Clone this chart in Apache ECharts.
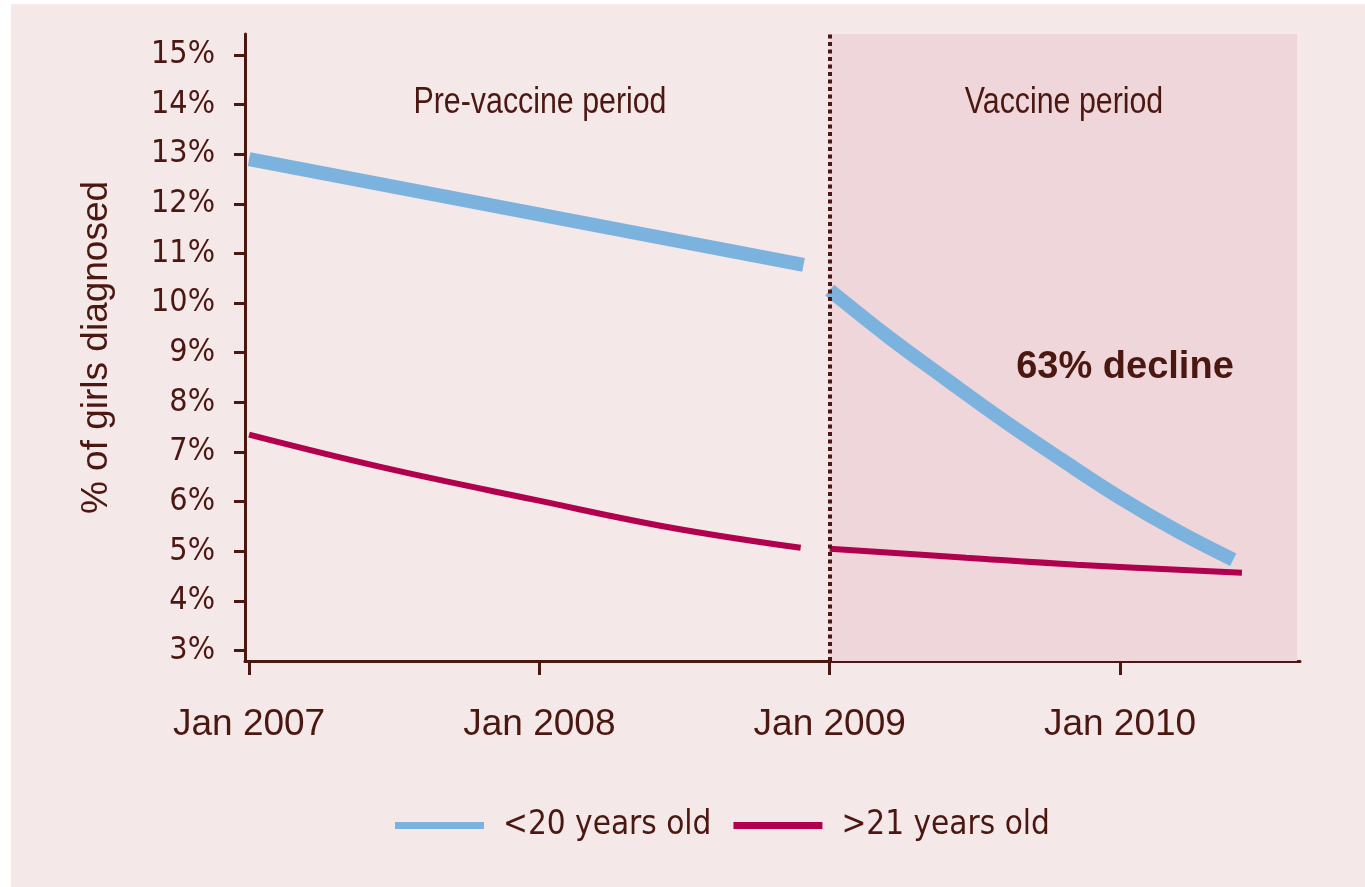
<!DOCTYPE html>
<html>
<head>
<meta charset="utf-8">
<script src="https://cdn.jsdelivr.net/npm/echarts@6/dist/echarts.min.js"></script>
<style>
  html, body { margin: 0; padding: 0; background: #ffffff; }
  #main { position: absolute; left: 11px; top: 4px; width: 1354px; height: 883px; }
</style>
</head>
<body>
<div id="main"></div>
<script>
// ticks
const yearTicks = [2007, 2008, 2009, 2010];
const rateTicks = [3, 4, 5, 6, 7, 8, 9, 10, 11, 12, 13, 14, 15];
const vaccineStart = 2009;
const xMin = 2006.986, xMax = 2010.62;
const yMin = 2.79, yMax = 15.42;

// <20 years old
const youngPreYear = [2007.0, 2008.91];
const youngPreRate = [12.9, 10.77];
const youngPostYear = [2009.0, 2009.2, 2009.4, 2009.6, 2009.8, 2010.0, 2010.2, 2010.39];
const youngPostRate = [10.26, 9.33, 8.47, 7.63, 6.84, 6.08, 5.4, 4.83];

// >21 years old
const olderPreYear = [2007.0, 2007.46, 2007.99, 2008.45, 2008.9];
const olderPreRate = [7.35, 6.69, 6.03, 5.48, 5.07];
const olderPostYear = [2009.0, 2009.47, 2009.85, 2010.42];
const olderPostRate = [5.05, 4.87, 4.73, 4.57];

const seriesNames = ["<20 years old", ">21 years old"];

const brown = "#4b1711";
const narrow = '"Liberation Sans Narrow", "DejaVu Sans Condensed", sans-serif';
const regular = '"Liberation Sans", Arial, sans-serif';

// join the two periods with a gap between them
function joinPeriods(preX, preY, postX, postY) {
  const out = preX.map((x, i) => [x, preY[i]]);
  out.push([(preX[preX.length - 1] + postX[0]) / 2, null]);
  postX.forEach((x, i) => out.push([x, postY[i]]));
  return out;
}

// condensed-looking caption (regular face squeezed horizontally)
function caption(text, x, y, font, squeeze) {
  return {
    type: "text", x: x, y: y, z: 100, silent: true, scaleX: squeeze,
    style: { text: text, fill: brown, font: font, align: "center", verticalAlign: "middle" },
  };
}

const myChart = echarts.init(document.getElementById("main"));

const option = {
  backgroundColor: "#f5e8e9",
  animation: false,
  grid: { left: 234, right: 65, top: 30, bottom: 226, containLabel: false },
  xAxis: {
    type: "value",
    min: xMin,
    max: xMax,
    splitLine: { show: false },
    axisLine: { onZero: false, lineStyle: { color: brown, width: 3 } },
    axisTick: { customValues: yearTicks, length: 14, lineStyle: { color: brown, width: 3 } },
    axisLabel: {
      customValues: yearTicks,
      formatter: (v) => "Jan " + v,
      color: brown,
      fontFamily: regular,
      fontSize: 37,
      margin: 45,
    },
  },
  yAxis: {
    type: "value",
    min: yMin,
    max: yMax,
    name: "% of girls diagnosed",
    nameLocation: "middle",
    nameGap: 130,
    nameTextStyle: { color: brown, fontFamily: regular, fontSize: 37 },
    splitLine: { show: false },
    axisLine: { lineStyle: { color: brown, width: 3 } },
    axisTick: { customValues: rateTicks, length: 11, lineStyle: { color: brown, width: 3 } },
    axisLabel: {
      customValues: rateTicks,
      formatter: (v) => v + "%",
      color: brown,
      fontFamily: narrow,
      fontSize: 32,
      margin: 30,
    },
  },
  legend: {
    data: seriesNames,
    left: 379,
    top: 800,
    icon: "rect",
    itemWidth: 89,
    itemHeight: 7,
    itemGap: 22,
    itemStyle: { borderWidth: 0 },
    textStyle: { color: brown, fontFamily: narrow, fontSize: 33, padding: [0, 0, 0, 14] },
  },
  graphic: [
    caption("Pre-vaccine period", 529, 99, "37px " + regular, 0.82),
    caption("Vaccine period", 1053, 99, "37px " + regular, 0.82),
    caption("63% decline", 1114, 364, "bold 38px " + regular, 1),
  ],
  series: [
    {
      type: "line",
      z: 1,
      data: [],
      silent: true,
      markArea: {
        silent: true,
        itemStyle: { color: "#efd6da" },
        data: [[{ xAxis: vaccineStart }, { xAxis: xMax - 0.01 }]],
      },
      markLine: {
        silent: true,
        symbol: ["none", "none"],
        label: { show: false },
        lineStyle: { color: brown, width: 4, type: [4, 3.5] },
        data: [{ xAxis: vaccineStart }],
      },
    },
    {
      name: seriesNames[0],
      type: "line",
      z: 3,
      color: "#7cb3de",
      showSymbol: false,
      smooth: 0.4,
      connectNulls: false,
      lineStyle: { width: 14, color: "#7cb3de" },
      data: joinPeriods(youngPreYear, youngPreRate, youngPostYear, youngPostRate),
    },
    {
      name: seriesNames[1],
      type: "line",
      z: 3,
      color: "#b0004e",
      showSymbol: false,
      smooth: 0.4,
      connectNulls: false,
      lineStyle: { width: 6, color: "#b0004e" },
      data: joinPeriods(olderPreYear, olderPreRate, olderPostYear, olderPostRate),
    },
  ],
};

myChart.setOption(option);
</script>
</body>
</html>
